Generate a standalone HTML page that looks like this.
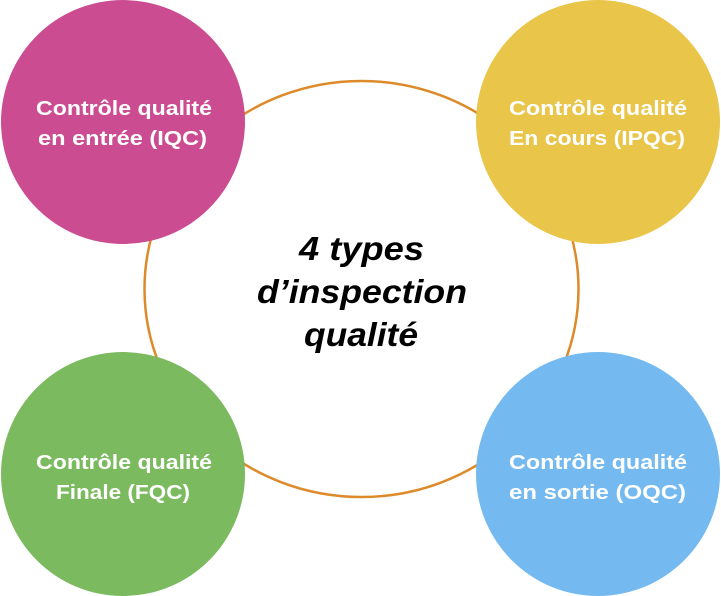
<!DOCTYPE html>
<html><head><meta charset="utf-8"><style>
html,body{margin:0;padding:0;background:#fff;width:721px;height:596px;overflow:hidden}
svg{display:block}
text{font-family:"Liberation Sans",sans-serif;font-weight:bold}
</style></head><body>
<svg width="721" height="596" viewBox="0 0 721 596">
<ellipse cx="361.5" cy="289" rx="217" ry="208" fill="none" stroke="#dd8a2a" stroke-width="2.5"/>
<circle cx="123" cy="122" r="122" fill="#cb4c91"/>
<circle cx="598" cy="122" r="122" fill="#e9c54a"/>
<circle cx="123" cy="474" r="122" fill="#7bba5f"/>
<circle cx="598" cy="474" r="122" fill="#74baf0"/>
<g fill="#fff" font-size="20" lengthAdjust="spacingAndGlyphs">
<text x="36" y="115" textLength="176" lengthAdjust="spacingAndGlyphs">Contrôle qualité</text>
<text x="38" y="145" textLength="169" lengthAdjust="spacingAndGlyphs">en entrée (IQC)</text>
<text x="509" y="115" textLength="178" lengthAdjust="spacingAndGlyphs">Contrôle qualité</text>
<text x="509" y="145" textLength="176" lengthAdjust="spacingAndGlyphs">En cours (IPQC)</text>
<text x="36" y="469" textLength="176" lengthAdjust="spacingAndGlyphs">Contrôle qualité</text>
<text x="56" y="499" textLength="134" lengthAdjust="spacingAndGlyphs">Finale (FQC)</text>
<text x="509" y="469" textLength="178" lengthAdjust="spacingAndGlyphs">Contrôle qualité</text>
<text x="509" y="499" textLength="177" lengthAdjust="spacingAndGlyphs">en sortie (OQC)</text>
</g>
<g fill="#000" font-size="33" font-style="italic">
<text x="299" y="260" textLength="125" lengthAdjust="spacingAndGlyphs">4 types</text>
<text x="257" y="303" textLength="210" lengthAdjust="spacingAndGlyphs">d’inspection</text>
<text x="304" y="346" textLength="114" lengthAdjust="spacingAndGlyphs">qualité</text>
</g>
</svg>
</body></html>
